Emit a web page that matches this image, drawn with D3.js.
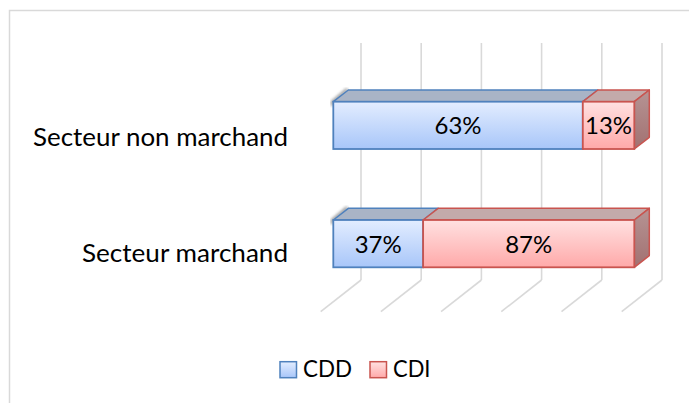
<!DOCTYPE html>
<html><head><meta charset="utf-8">
<script src="https://cdn.jsdelivr.net/npm/d3@7"></script>
<style>html,body{margin:0;padding:0;background:#fff;} svg{display:block;}</style>
</head><body>
<svg id="chart" width="689" height="403"></svg>
<script>
const categories = ["Secteur non marchand", "Secteur marchand"];
const seriesNames = ["CDD", "CDI"];
const cddValues = [63, 37];
const cdiValues = [13, 87];
const gridTicks = [0, 0.2, 0.4, 0.6, 0.8, 1.0];

const FONT = "Lato, 'Open Sans', sans-serif";
const svg = d3.select("#chart");

const rows = categories.map((c, i) => ({ cat: c, CDD: cddValues[i], CDI: cdiValues[i] }));
const stacked = d3.stack().keys(seriesNames).offset(d3.stackOffsetExpand)(rows);

const x = d3.scaleLinear().domain([0, 1]).range([333.3, 634.3]);
const y = d3.scaleBand().domain(categories).range([66.2, 302.8]).paddingInner(0.6).paddingOuter(0.3);
const labelY = d3.scalePoint().domain(categories).range([136.7, 252.5]);

// 3D offsets
const bdx = 15, bdy = -11.7;
const wallDx = 27.7, floorDx = -12.6;
const wallTop = 43, floorBack = 280, floorFront = 311.7;

const defs = svg.append("defs");
function grad(id, c0, c1) {
  const g = defs.append("linearGradient").attr("id", id).attr("x1", 0).attr("y1", 0).attr("x2", 0).attr("y2", 1);
  g.append("stop").attr("offset", "0%").attr("stop-color", c0);
  g.append("stop").attr("offset", "100%").attr("stop-color", c1);
}
grad("gCDD", "#e3edff", "#a8c6f9");
grad("gCDI", "#ffe1e1", "#ffa9a9");
grad("gSide", "#b69494", "#a27171");
defs.append("filter").attr("id", "blur").append("feGaussianBlur").attr("stdDeviation", 1.6);

const style = {
  CDD: { front: "url(#gCDD)", top: "#a9b4c6", stroke: "#4f81bd" },
  CDI: { front: "url(#gCDI)", top: "#c3aaaa", stroke: "#c9544f" }
};

svg.append("path").attr("d", "M9.5,403 L9.5,10.5 L689,10.5").attr("fill", "none")
  .attr("stroke", "#d9d9d9").attr("stroke-width", 1.5);

const grid = svg.append("g").attr("stroke", "#d9d9d9").attr("stroke-width", 1.6).attr("fill", "none");
grid.selectAll("line.v").data(gridTicks).join("line")
  .attr("x1", d => x(d) + wallDx).attr("x2", d => x(d) + wallDx)
  .attr("y1", wallTop).attr("y2", floorBack);
grid.selectAll("line.f").data(gridTicks).join("line")
  .attr("x1", d => x(d) + wallDx).attr("y1", floorBack)
  .attr("x2", d => x(d) + floorDx).attr("y2", floorFront);

const bars = svg.append("g");
categories.forEach((cat, i) => {
  const y0 = y(cat), h = y.bandwidth();
  const g = bars.append("g");
  const sx = x(0);
  g.append("path")
    .attr("d", `M${sx - 1},${y0 + 4} L${sx - 1},${y0} L${sx + bdx - 1},${y0 + bdy - 1}`)
    .attr("fill", "none").attr("stroke", "#444").attr("stroke-width", 2.2).attr("opacity", 0.7)
    .attr("filter", "url(#blur)");
  stacked.forEach(s => {
    const d = s[i], st = style[s.key];
    const a = x(d[0]), b = x(d[1]);
    g.append("path")
      .attr("d", `M${a},${y0} L${b},${y0} L${b + bdx},${y0 + bdy} L${a + bdx},${y0 + bdy} Z`)
      .attr("fill", st.top).attr("stroke", st.stroke).attr("stroke-width", 1.5).attr("stroke-linejoin", "round");
  });
  const last = stacked[stacked.length - 1];
  const st = style[last.key];
  const r = x(last[i][1]);
  g.append("path")
    .attr("d", `M${r},${y0} L${r + bdx},${y0 + bdy} L${r + bdx},${y0 + bdy + h} L${r},${y0 + h} Z`)
    .attr("fill", "url(#gSide)").attr("stroke", st.stroke).attr("stroke-width", 1.5).attr("stroke-linejoin", "round");
  stacked.forEach(s => {
    const d = s[i], sst = style[s.key];
    g.append("rect").attr("x", x(d[0])).attr("y", y0).attr("width", x(d[1]) - x(d[0])).attr("height", h)
      .attr("fill", sst.front).attr("stroke", sst.stroke).attr("stroke-width", 1.8);
  });
});

// text helpers: font size from cap height, width fitted with textLength
const CAP = 0.72; // Lato cap-height ratio
function addText(parent, txt, xPos, yPos, capH, targetW, anchor) {
  const t = parent.append("text").attr("font-family", FONT).attr("font-size", capH / CAP)
    .attr("x", xPos).attr("y", yPos).attr("text-anchor", anchor).attr("fill", "#000").text(txt);
  if (targetW) t.attr("textLength", targetW).attr("lengthAdjust", "spacingAndGlyphs");
  return t;
}

const lab = svg.append("g");
stacked.forEach(s => {
  const vals = s.key === "CDD" ? cddValues : cdiValues;
  categories.forEach((cat, i) => {
    const d = s[i];
    addText(lab, vals[i] + "%", (x(d[0]) + x(d[1])) / 2, y(cat) + y.bandwidth() / 2 + 9, 16.3, 47, "middle");
  });
});

const catG = svg.append("g");
const catW = { "Secteur non marchand": 255, "Secteur marchand": 206 };
categories.forEach(c => addText(catG, c, 288, labelY(c) + 9.3, 17.5, catW[c], "end"));

const legX = d3.scalePoint().domain(seriesNames).range([280, 370]);
const legW = { CDD: 49, CDI: 37.5 };
const leg = svg.append("g");
seriesNames.forEach(k => {
  leg.append("rect").attr("x", legX(k)).attr("y", 361.7).attr("width", 16.5).attr("height", 16)
    .attr("fill", style[k].front).attr("stroke", style[k].stroke).attr("stroke-width", 1.5);
  addText(leg, k, legX(k) + 23, 377, 16.3, legW[k], "start");
});
</script>
</body></html>
